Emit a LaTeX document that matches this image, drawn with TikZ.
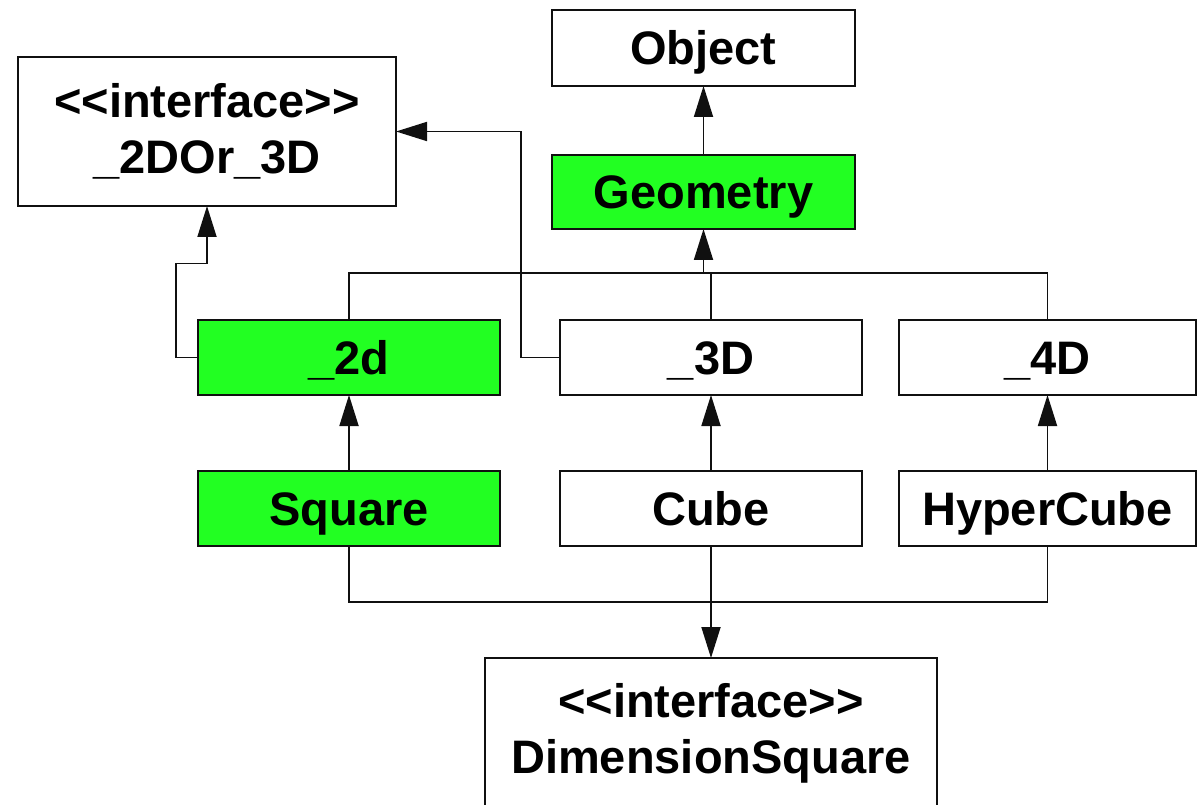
\documentclass[tikz,border=0pt]{standalone}
\usepackage{fontspec}
\setmainfont{Liberation Sans}
\usepackage{xcolor}
\usepackage{tikz}
\usetikzlibrary{arrows.meta,positioning}
\definecolor{umlgreen}{HTML}{22FF22}
\definecolor{umlline}{HTML}{101010}
\tikzset{
    cls/.style={rectangle, draw=umlline, line width=1.8pt, fill=white,
        minimum width=302pt, minimum height=75pt, inner sep=0pt, outer sep=0pt,
        font=\fontsize{47}{56}\selectfont\bfseries, text height=34pt, text depth=0pt},
    active/.style={cls, fill=umlgreen},
    iface/.style={rectangle, draw=umlline, line width=1.8pt, fill=white,
        inner sep=0pt, outer sep=0pt, align=center, font=\fontsize{47}{56}\selectfont\bfseries},
    flow/.style={-{Triangle[length=31pt,width=19pt]}, line width=1.8pt, draw=umlline},
    wire/.style={line width=1.8pt, draw=umlline}
}

\begin{document}
\begin{tikzpicture}[x=1pt,y=-1pt]
        \useasboundingbox (0,0) rectangle (1197,805);
        \node[cls, minimum width=303pt, minimum height=76pt] (object) at (703.5,48) {Object};
        \node[active, minimum width=303pt, minimum height=74pt, below=69pt of object] (geometry) {Geometry};
        \node[iface, minimum width=378pt, minimum height=149pt] (shape2d3d) at (207,131.5) {<{}<interface>{}>\\\_2DOr\_3D};
        \node[active] (d2) at (349,357.5) {\_2d};
        \node[cls, right=60pt of d2] (d3) {\_3D};
        \node[cls, minimum width=297pt, right=37pt of d3] (d4) {\_4D};
        \node[active, below=76pt of d2] (square) {Square};
        \node[cls, below=76pt of d3] (cube) {Cube};
        \node[cls, minimum width=297pt, below=76pt of d4] (hyper) {HyperCube};
        \node[iface, minimum width=452pt, minimum height=150pt, below=112pt of cube] (dimsq) {<{}<interface>{}>\\DimensionSquare};
        \coordinate (upbus) at ([yshift=-44pt]geometry.south);
        \coordinate (downbus) at ([yshift=-56pt]cube.south);
        \draw[flow] (geometry) -- (object);
        \draw[flow] (upbus) -- (geometry.south);
        \draw[wire] (d2.north) |- (d4.north |- upbus) -- (d4.north);
        \draw[wire] (d3.north) -- (d3.north |- upbus);
        \draw[flow] (d2.west) -| ++(-22,-94) -| (shape2d3d.south);
        \draw[flow] (d3.west) -- ++(-39,0) |- (shape2d3d.east);
        \draw[flow] (square) -- (d2);
        \draw[flow] (cube) -- (d3);
        \draw[flow] (hyper) -- (d4);
        \draw[wire] (square.south) |- (hyper.south |- downbus) -- (hyper.south);
        \draw[flow] (cube.south) -- (dimsq.north);
    \end{tikzpicture}
\end{document}
